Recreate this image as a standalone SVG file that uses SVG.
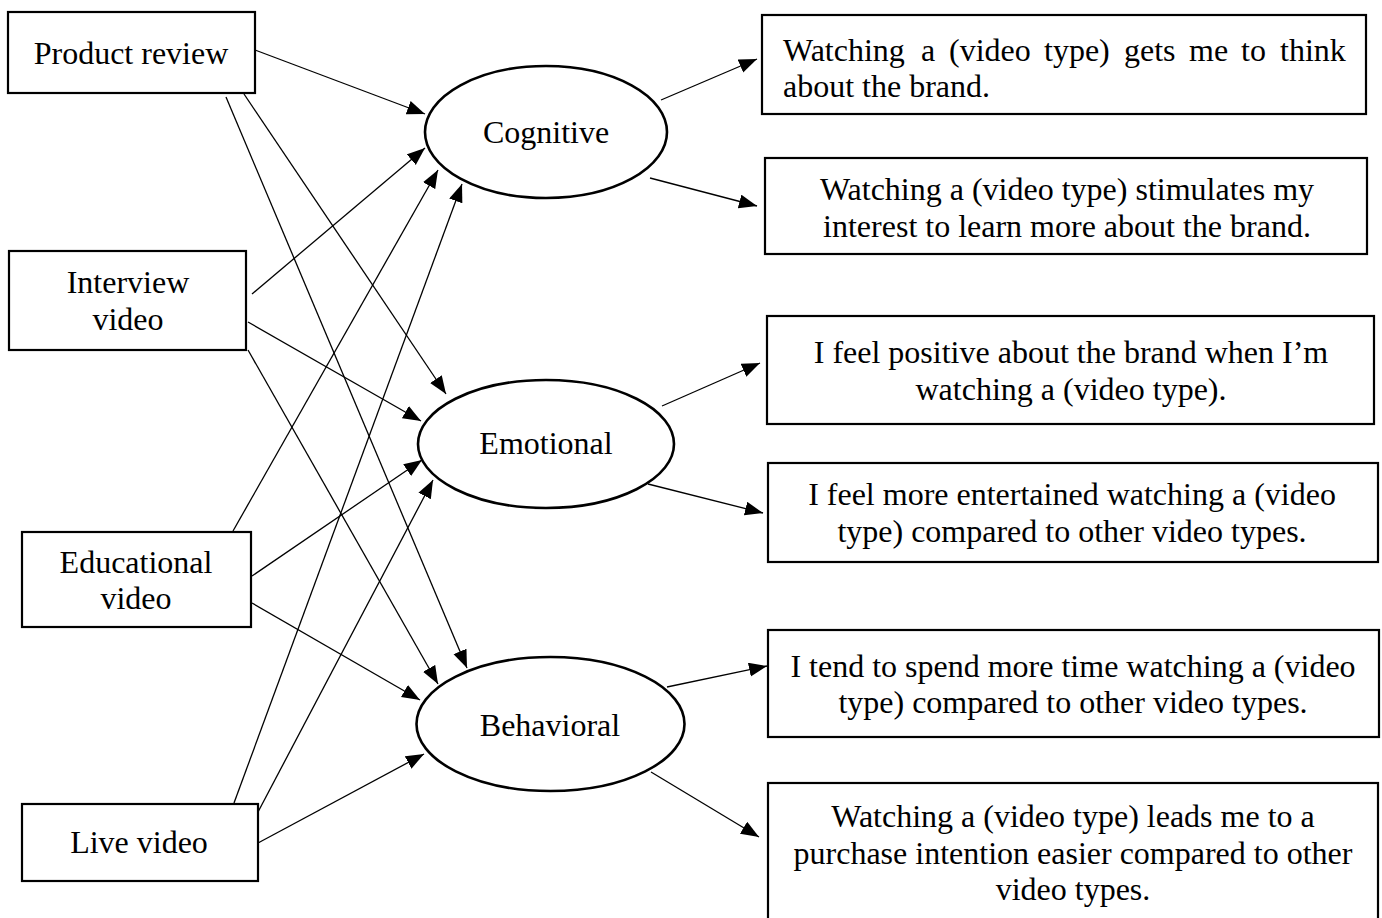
<svg xmlns="http://www.w3.org/2000/svg" width="1382" height="918" viewBox="0 0 1382 918">
<style>
.box{fill:#fff;stroke:#000;stroke-width:2.2}
.ell{fill:#fff;stroke:#000;stroke-width:2.6}
.t{font-family:"Liberation Serif","Times New Roman",serif;font-size:32px;fill:#000}
.c{text-anchor:middle}
.ln{stroke:#000;stroke-width:1.3;fill:none;marker-end:url(#ah)}
</style>
<defs>
<marker id="ah" markerUnits="userSpaceOnUse" markerWidth="19" markerHeight="15" refX="18" refY="7" orient="auto">
<path d="M0,0 L18,7 L0,14 z" fill="#000"/>
</marker>
</defs>
<rect width="1382" height="918" fill="#fff"/>
<g id="connectors">
<line class="ln" x1="255" y1="50" x2="425" y2="114"/>
<line class="ln" x1="244" y1="94" x2="446" y2="394"/>
<line class="ln" x1="226" y1="97" x2="467" y2="668"/>
<line class="ln" x1="252" y1="294" x2="425" y2="148"/>
<line class="ln" x1="248" y1="322" x2="421" y2="421"/>
<line class="ln" x1="248" y1="350" x2="438" y2="684"/>
<line class="ln" x1="233" y1="531" x2="438" y2="170"/>
<line class="ln" x1="252" y1="576" x2="422" y2="460"/>
<line class="ln" x1="252" y1="603" x2="420" y2="700"/>
<line class="ln" x1="234" y1="803" x2="462" y2="184"/>
<line class="ln" x1="258" y1="812" x2="433" y2="480"/>
<line class="ln" x1="258" y1="843" x2="424" y2="754"/>
<line class="ln" x1="661" y1="100" x2="757" y2="59"/>
<line class="ln" x1="650" y1="178" x2="757" y2="206"/>
<line class="ln" x1="662" y1="406" x2="760" y2="363"/>
<line class="ln" x1="648" y1="484" x2="763" y2="513"/>
<line class="ln" x1="667" y1="687" x2="767" y2="666"/>
<line class="ln" x1="651" y1="772" x2="759" y2="837"/>
</g>
<g id="product-review">
<rect class="box" x="8" y="12" width="247" height="81"/>
<text class="t c" x="131" y="64">Product review</text>
</g>
<g id="interview-video">
<rect class="box" x="9" y="251" width="237" height="99"/>
<text class="t c" x="128" y="293">Interview</text>
<text class="t c" x="128" y="330">video</text>
</g>
<g id="educational-video">
<rect class="box" x="22" y="532" width="229" height="95"/>
<text class="t c" x="136" y="573">Educational</text>
<text class="t c" x="136" y="609">video</text>
</g>
<g id="live-video">
<rect class="box" x="22" y="804" width="236" height="77"/>
<text class="t c" x="139" y="853">Live video</text>
</g>
<g id="cognitive">
<ellipse class="ell" cx="546" cy="132" rx="121" ry="66"/>
<text class="t c" x="546" y="143">Cognitive</text>
</g>
<g id="emotional">
<ellipse class="ell" cx="546" cy="444" rx="128" ry="64"/>
<text class="t c" x="546" y="454">Emotional</text>
</g>
<g id="behavioral">
<ellipse class="ell" cx="550.5" cy="724" rx="134" ry="67"/>
<text class="t c" x="550" y="736">Behavioral</text>
</g>
<g id="item-c1">
<rect class="box" x="762" y="15" width="604" height="99"/>
<text class="t" y="61"><tspan x="783">Watching</tspan><tspan x="921">a</tspan><tspan x="949">(video</tspan><tspan x="1044">type)</tspan><tspan x="1124">gets</tspan><tspan x="1189">me</tspan><tspan x="1241">to</tspan><tspan x="1280">think</tspan></text>
<text class="t" x="783" y="97">about the brand.</text>
</g>
<g id="item-c2">
<rect class="box" x="765" y="158" width="602" height="96"/>
<text class="t c" x="1067" y="200">Watching a (video type) stimulates my</text>
<text class="t c" x="1067" y="237">interest to learn more about the brand.</text>
</g>
<g id="item-e1">
<rect class="box" x="767" y="316" width="607" height="108"/>
<text class="t c" x="1071" y="363">I feel positive about the brand when I’m</text>
<text class="t c" x="1071" y="400">watching a (video type).</text>
</g>
<g id="item-e2">
<rect class="box" x="768" y="463" width="610" height="99"/>
<text class="t c" x="1072" y="505">I feel more entertained watching a (video</text>
<text class="t c" x="1072" y="542">type) compared to other video types.</text>
</g>
<g id="item-b1">
<rect class="box" x="768" y="630" width="611" height="107"/>
<text class="t c" x="1073" y="677">I tend to spend more time watching a (video</text>
<text class="t c" x="1073" y="713">type) compared to other video types.</text>
</g>
<g id="item-b2">
<rect class="box" x="768" y="783" width="610" height="150"/>
<text class="t c" x="1073" y="827">Watching a (video type) leads me to a</text>
<text class="t c" x="1073" y="864">purchase intention easier compared to other</text>
<text class="t c" x="1073" y="900">video types.</text>
</g>
</svg>
